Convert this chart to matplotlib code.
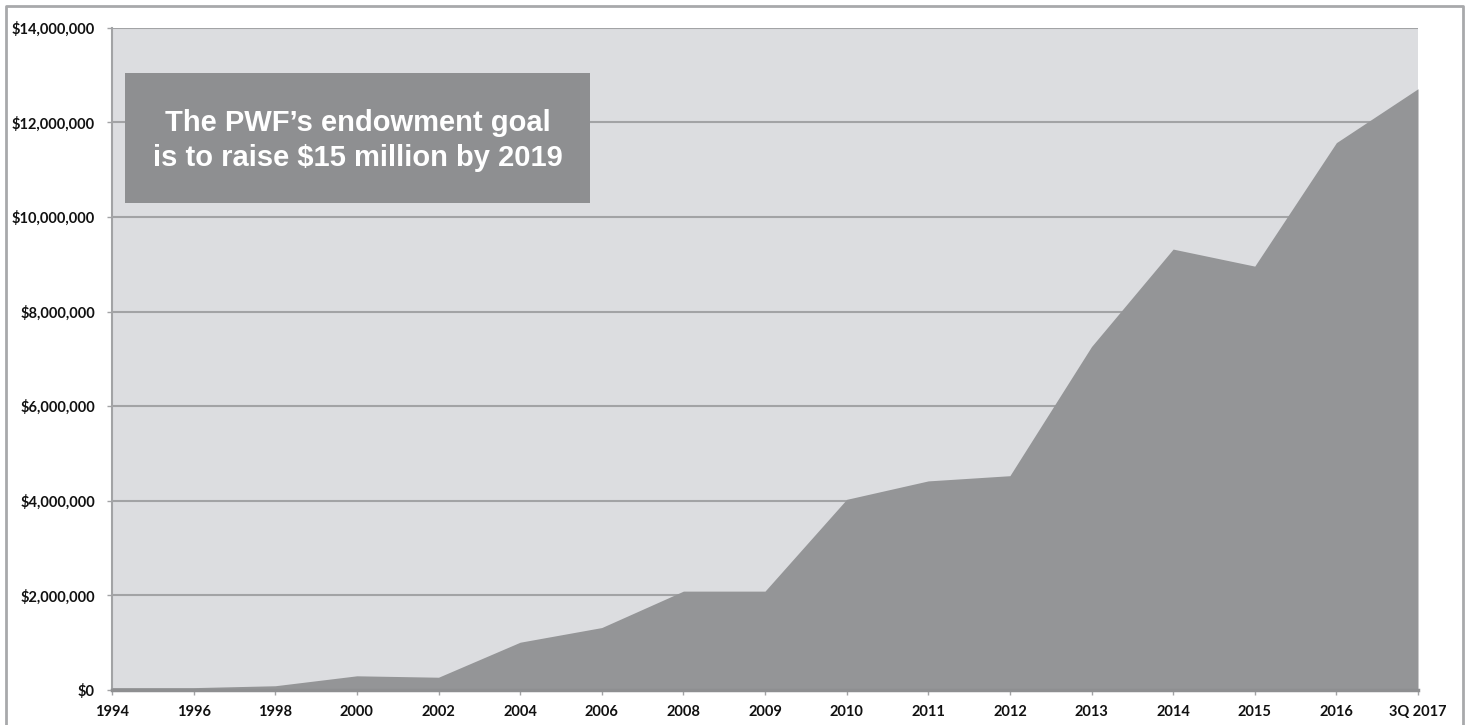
import matplotlib
matplotlib.use("Agg")
import matplotlib.pyplot as plt
from matplotlib.patches import Rectangle
from matplotlib.lines import Line2D
from matplotlib.ticker import FuncFormatter, MultipleLocator

categories = ["1994", "1996", "1998", "2000", "2002", "2004", "2006", "2008", "2009",
              "2010", "2011", "2012", "2013", "2014", "2015", "2016", "3Q 2017"]
values = [50000, 50000, 90000, 300000, 270000, 1010000, 1320000, 2090000, 2090000,
          4030000, 4420000, 4530000, 7260000, 9320000, 8960000, 11570000, 12710000]
annotation = "The PWF\u2019s endowment goal\nis to raise $15 million by 2019"

W, H, DPI = 1471, 725, 100
fig = plt.figure(figsize=(W / DPI, H / DPI), dpi=DPI)
fig.patch.set_facecolor("white")

left, right, bottom, top = 112 / W, 1418 / W, (H - 690) / H, (H - 27.7) / H
ax = fig.add_axes([left, bottom, right - left, top - bottom])
ax.set_facecolor("#dcdde0")

x = list(range(len(categories)))
ax.fill_between(x, values, 0, color="#949597", linewidth=0, zorder=3)

ax.set_xlim(0, len(categories) - 1)
ax.set_ylim(0, 14000000)
ax.yaxis.set_major_locator(MultipleLocator(2000000))
ax.yaxis.set_major_formatter(FuncFormatter(lambda v, p: "${:,.0f}".format(v)))
ax.set_xticks(x)
ax.set_xticklabels(categories)
ax.grid(axis="y", color="#a2a3a5", linewidth=1.5, zorder=1)
ax.set_axisbelow(True)

for s in ["top", "right"]:
    ax.spines[s].set_visible(False)
ax.spines["left"].set_color("#a2a3a5")
ax.spines["left"].set_linewidth(1.5)
ax.spines["bottom"].set_color("#8e8f91")
ax.spines["bottom"].set_linewidth(2.5)
ax.spines["bottom"].set_zorder(4)

for lab in ax.get_xticklabels() + ax.get_yticklabels():
    lab.set_fontfamily(["Lato", "DejaVu Sans"])
    lab.set_fontweight("bold")
    lab.set_fontsize(10.5)
    lab.set_color("#111111")
ax.tick_params(axis="both", direction="out", length=3.6, color="#a2a3a5", width=1)
ax.tick_params(axis="y", pad=8.6)
ax.tick_params(axis="x", pad=7.5)

# annotation box
bx0, bx1 = 0.00995, 0.366
by0, by1 = 0.7358, 0.932
ax.add_patch(Rectangle((bx0, by0), bx1 - bx0, by1 - by0, transform=ax.transAxes,
                       facecolor="#8e8f91", edgecolor="none", zorder=5))
ax.text((bx0 + bx1) / 2, (by0 + by1) / 2 - 0.004, annotation, transform=ax.transAxes,
        ha="center", va="center", color="white", fontsize=21, fontweight="bold",
        family=["Liberation Sans", "DejaVu Sans"], linespacing=1.33, zorder=6)

# outer frame (left, top, right)
fx0, fx1, fy1 = 6 / W, 1463 / W, (H - 6) / H
fig.add_artist(Line2D([fx0, fx0, fx1, fx1], [0, fy1, fy1, 0], transform=fig.transFigure,
                      color="#a8a9ab", linewidth=2))

fig.savefig("out.png", dpi=DPI, facecolor="white")
